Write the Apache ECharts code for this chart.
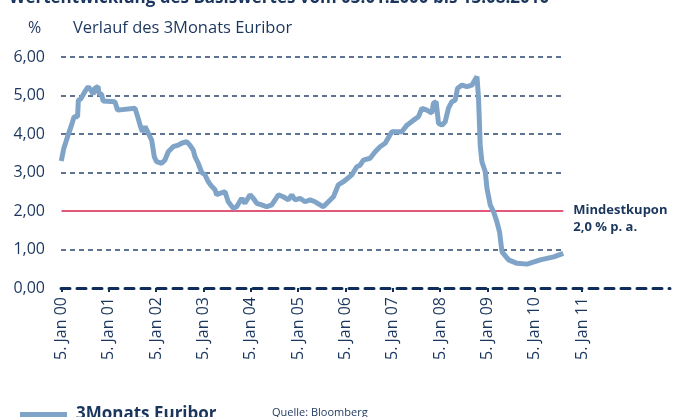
<!DOCTYPE html>
<html>
<head>
<meta charset="utf-8">
<script src="https://cdn.jsdelivr.net/npm/echarts@6/dist/echarts.min.js"></script>
<style>
  html, body { margin: 0; padding: 0; background: #fff; }
  #chart { width: 676px; height: 417px; }
</style>
</head>
<body>
<div id="chart"></div>
<script>
// Verlauf des 3Monats Euribor
var dates = ['2000-01-03', '2000-01-23', '2000-02-12', '2000-03-22', '2000-04-11', '2000-05-08', '2000-05-14',
    '2000-06-01', '2000-07-03', '2000-07-29', '2000-08-18', '2000-09-05', '2000-09-18', '2000-10-14', '2000-10-19',
    '2000-11-09', '2000-11-21', '2001-02-20', '2001-03-13', '2001-07-25', '2001-08-15', '2001-09-02', '2001-09-20',
    '2001-10-11', '2001-11-05', '2001-12-01', '2001-12-21', '2002-01-08', '2002-02-16', '2002-03-13', '2002-04-08',
    '2002-05-16', '2002-06-24', '2002-07-20', '2002-08-28', '2002-09-22', '2002-10-18', '2002-10-31', '2002-11-25',
    '2002-12-22', '2003-01-16', '2003-02-11', '2003-03-09', '2003-04-04', '2003-04-17', '2003-05-12', '2003-06-20',
    '2003-07-15', '2003-08-23', '2003-09-18', '2003-10-27', '2003-11-21', '2003-12-30', '2004-01-24', '2004-02-20',
    '2004-03-29', '2004-05-07', '2004-06-15', '2004-08-05', '2004-09-12', '2004-10-21', '2004-11-16', '2004-12-12',
    '2005-01-19', '2005-02-27', '2005-04-07', '2005-05-15', '2005-06-23', '2005-07-18', '2005-08-26', '2005-10-04',
    '2005-11-11', '2005-12-20', '2006-02-23', '2006-04-02', '2006-04-28', '2006-05-23', '2006-07-14', '2006-08-22',
    '2006-09-29', '2006-11-07', '2006-12-29', '2007-03-16', '2007-04-24', '2007-06-14', '2007-07-22', '2007-08-18',
    '2007-09-25', '2007-11-03', '2007-11-15', '2007-12-06', '2007-12-24', '2008-01-19', '2008-02-14', '2008-03-10',
    '2008-04-05', '2008-05-01', '2008-05-19', '2008-06-22', '2008-07-30', '2008-09-07', '2008-10-16', '2008-10-28',
    '2008-11-10', '2008-11-23', '2008-12-19', '2009-01-01', '2009-01-26', '2009-02-21', '2009-03-19', '2009-04-08',
    '2009-04-27', '2009-06-17', '2009-08-21', '2009-11-06', '2010-02-17', '2010-05-31', '2010-08-13'];

var euribor = [3.30, 3.63, 3.84, 4.23, 4.45, 4.45, 4.88,
    4.91, 5.10, 5.23, 5.14, 5.03, 5.19, 5.23, 5.06,
    5.03, 4.86, 4.84, 4.62, 4.67, 4.45, 4.23, 4.06,
    4.19, 4.02, 3.84, 3.41, 3.28, 3.24, 3.32, 3.54,
    3.67, 3.71, 3.76, 3.80, 3.71, 3.58, 3.41, 3.24,
    3.00, 2.94, 2.76, 2.64, 2.55, 2.42, 2.46, 2.50,
    2.24, 2.07, 2.11, 2.33, 2.20, 2.42, 2.33, 2.20,
    2.16, 2.11, 2.16, 2.42, 2.37, 2.29, 2.42, 2.29,
    2.33, 2.24, 2.29, 2.24, 2.16, 2.11, 2.24, 2.37,
    2.68, 2.76, 2.94, 3.15, 3.19, 3.32, 3.37, 3.54,
    3.67, 3.76, 4.06, 4.06, 4.23, 4.36, 4.45, 4.67,
    4.62, 4.54, 4.80, 4.84, 4.28, 4.23, 4.32, 4.67,
    4.84, 4.88, 5.19, 5.27, 5.23, 5.27, 5.49, 4.93,
    3.71, 3.28, 3.02, 2.59, 2.16, 1.98, 1.72, 1.46,
    0.94, 0.73, 0.64, 0.62, 0.73, 0.81, 0.90];

var tickDates = ['2000-01-05', '2001-01-05', '2002-01-05', '2003-01-05', '2004-01-05', '2005-01-05',
    '2006-01-05', '2007-01-05', '2008-01-05', '2009-01-05', '2010-01-05', '2011-01-05'];
var tickLabels = ['5. Jan 00', '5. Jan 01', '5. Jan 02', '5. Jan 03', '5. Jan 04', '5. Jan 05',
    '5. Jan 06', '5. Jan 07', '5. Jan 08', '5. Jan 09', '5. Jan 10', '5. Jan 11'];

var gridValues = [1, 3, 4, 5, 6];
var mindestkupon = 2.0;

var navy = '#1b365d';
var font = '"Open Sans", "Noto Sans", sans-serif';

var myChart = echarts.init(document.getElementById('chart'));

function ts(d) {
    return +echarts.time.parse(d);
}

var tickTimes = tickDates.map(ts);
var seriesData = dates.map(function (d, i) { return [ts(d), euribor[i]]; });
var startTime = ts('2000-01-01');
var endTime = ts(dates[dates.length - 1]);

// gestrichelte Hilfslinien nur bis zum Ende der Daten
var markLines = gridValues.map(function (v) {
    return [
        { coord: [startTime, v], lineStyle: { color: '#28466e', width: 1.5, type: [5, 4] }, label: { show: false } },
        { coord: [endTime, v] }
    ];
});

// rote Linie für den Mindestkupon
markLines.push([
    {
        coord: [ts('2000-01-05'), mindestkupon],
        lineStyle: { color: '#d7214f', width: 1.5, type: 'solid' },
        label: {
            show: true,
            position: 'end',
            distance: 10,
            color: navy,
            fontFamily: font,
            fontSize: 13,
            fontWeight: 'bold',
            lineHeight: 17,
            align: 'left',
            verticalAlign: 'top',
            padding: [-9, 0, 0, 0],
            formatter: 'Mindestkupon\n2,0 % p. a.'
        }
    },
    { coord: [endTime, mindestkupon] }
]);

var option = {
    animation: false,
    title: {
        text: 'Wertentwicklung des Basiswertes vom 03.01.2000 bis 13.08.2010',
        left: 4,
        top: -15,
        textStyle: { color: navy, fontFamily: font, fontSize: 17, fontWeight: 'bold' }
    },
    legend: {
        left: 15,
        top: 401,
        icon: 'rect',
        itemWidth: 47,
        itemHeight: 5,
        itemGap: 12,
        textStyle: { color: navy, fontFamily: font, fontSize: 17, fontWeight: 'bold', padding: [0, 0, 0, 4] },
        data: ['3Monats Euribor']
    },
    graphic: [
        { type: 'text', left: 28, top: 20, style: { text: '%', fill: navy, font: '16px ' + font } },
        { type: 'text', left: 73, top: 20, style: { text: 'Verlauf des 3Monats Euribor', fill: navy, font: '16.5px ' + font } },
        { type: 'text', left: 272, top: 407, style: { text: 'Quelle: Bloomberg', fill: navy, font: '11px ' + font } }
    ],
    grid: { left: 61, right: 6, top: 57, bottom: 129, containLabel: false },
    xAxis: {
        type: 'value',
        min: ts('2000-01-01'),
        max: ts('2012-11-14'),
        splitLine: { show: false },
        axisLine: { show: true, lineStyle: { color: '#0e2d5a', width: 3, type: [9, 7] } },
        axisTick: { show: true, customValues: tickTimes, length: 4, lineStyle: { color: '#0e2d5a', width: 2 } },
        axisLabel: {
            customValues: tickTimes,
            rotate: 90,
            margin: 9,
            color: navy,
            fontFamily: font,
            fontSize: 16,
            formatter: function (v) {
                var i = tickTimes.indexOf(v);
                return i >= 0 ? tickLabels[i] : '';
            }
        }
    },
    yAxis: {
        type: 'value',
        min: 0,
        max: 6,
        interval: 1,
        axisLine: { show: false },
        axisTick: { show: false },
        splitLine: { show: false },
        axisLabel: {
            margin: 16,
            color: navy,
            fontFamily: font,
            fontSize: 16,
            formatter: function (v) { return v.toFixed(2).replace('.', ','); }
        }
    },
    series: [
        {
            name: '3Monats Euribor',
            type: 'line',
            data: seriesData,
            showSymbol: false,
            symbol: 'none',
            color: '#7fa4c8',
            lineStyle: { color: '#7fa4c8', width: 5 },
            markLine: {
                symbol: 'none',
                silent: true,
                z: 1,
                data: markLines
            }
        }
    ]
};

myChart.setOption(option);
</script>
</body>
</html>
